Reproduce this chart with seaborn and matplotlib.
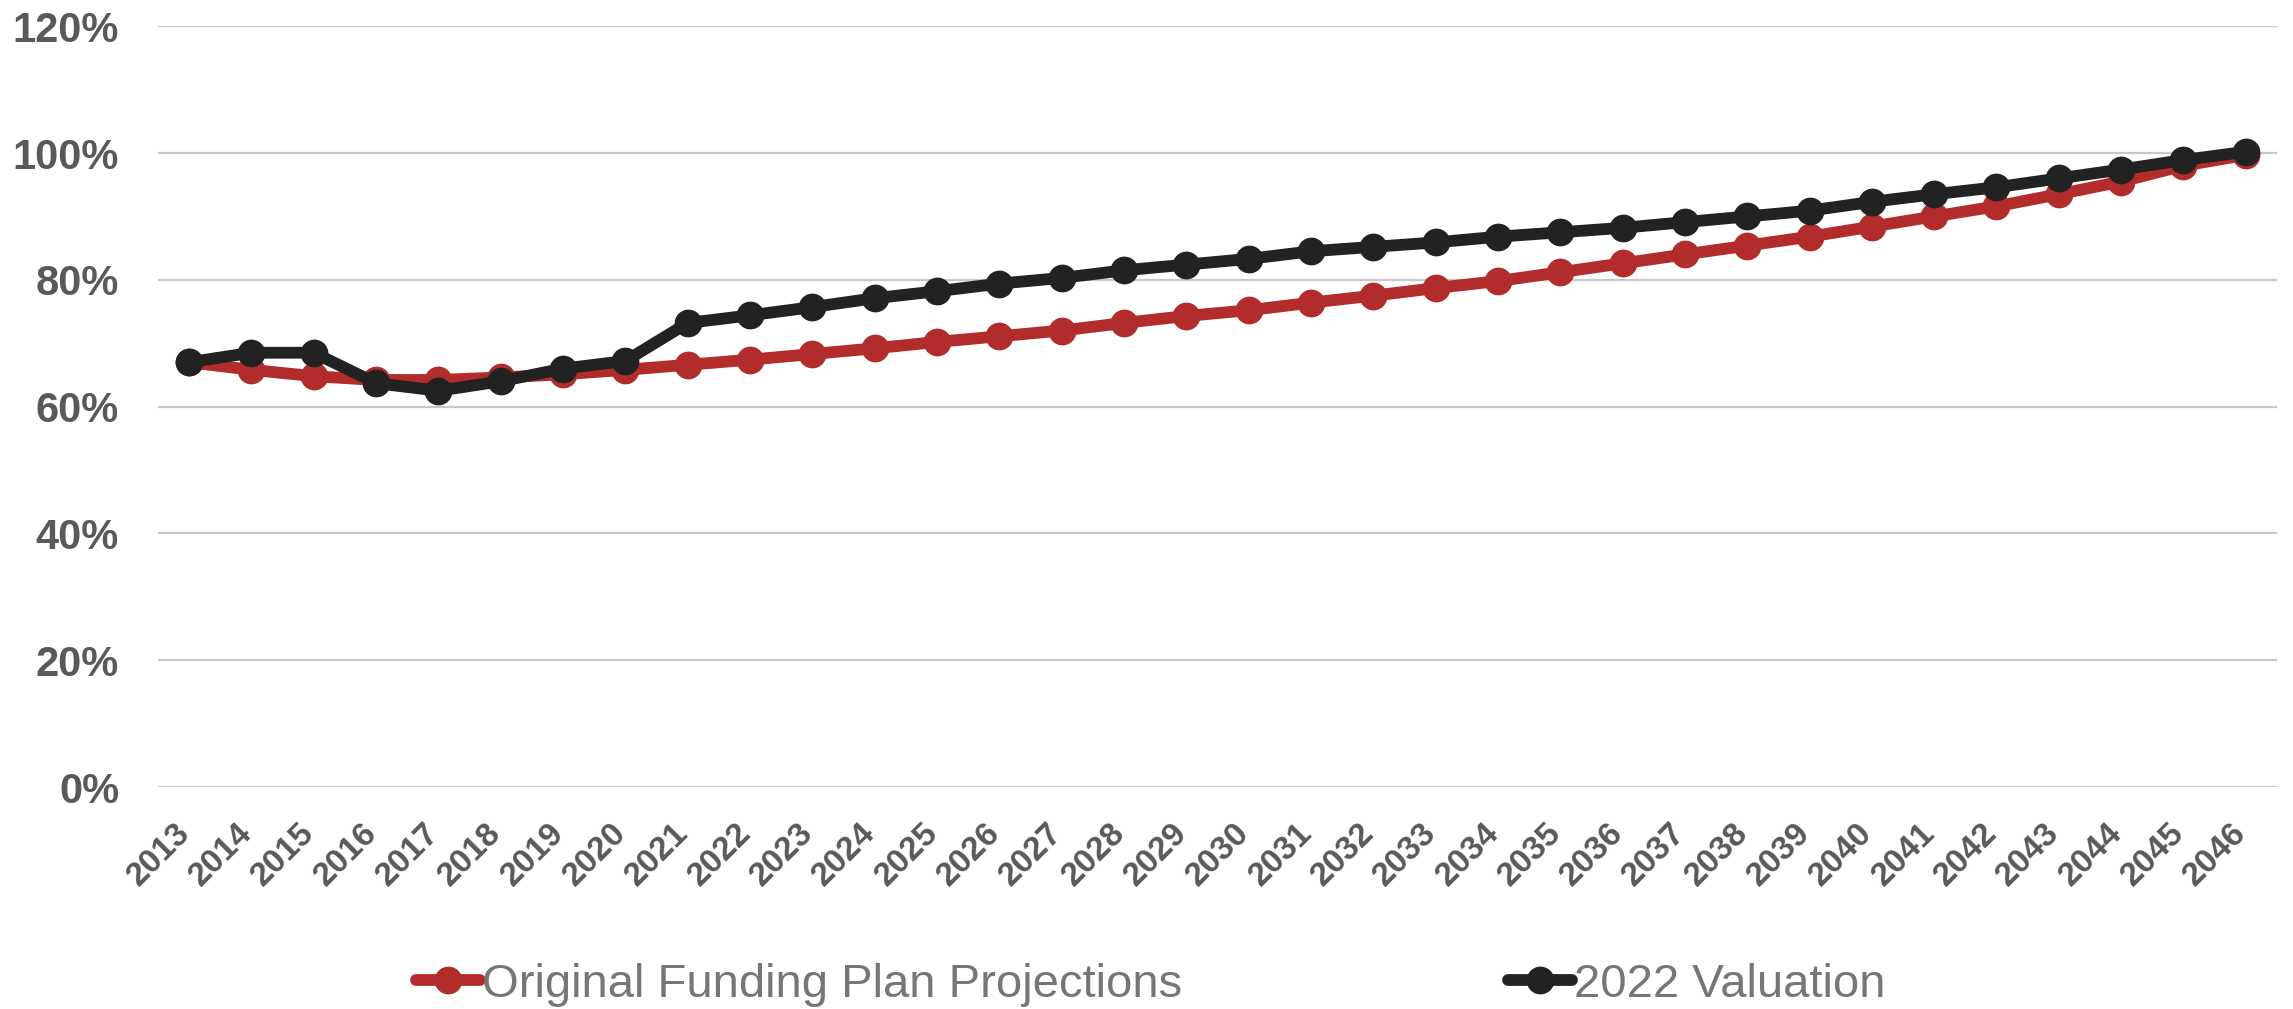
import numpy as np
import pandas as pd
import seaborn as sns
import matplotlib.pyplot as plt
import matplotlib.transforms as mtransforms
from matplotlib.ticker import PercentFormatter

years = list(range(2013, 2047))

original_plan = [67.0, 65.8, 64.8, 64.2, 64.2, 64.6, 65.1, 65.8, 66.6, 67.4,
                 68.3, 69.2, 70.2, 71.1, 72.0, 73.2, 74.3, 75.2, 76.4, 77.5,
                 78.7, 79.8, 81.2, 82.6, 84.0, 85.4, 86.8, 88.4, 90.0, 91.6,
                 93.5, 95.5, 98.0, 99.7]

valuation_2022 = [67.0, 68.5, 68.5, 63.7, 62.5, 64.0, 66.0, 67.2, 73.2, 74.4,
                  75.7, 77.1, 78.2, 79.4, 80.3, 81.5, 82.4, 83.3, 84.5, 85.2,
                  85.9, 86.8, 87.5, 88.2, 89.1, 90.0, 90.9, 92.3, 93.5, 94.6,
                  96.0, 97.4, 98.9, 100.2]

series_names = ["Original Funding Plan Projections", "2022 Valuation"]
colors = ["#B22C2C", "#222222"]

df = pd.DataFrame({
    "year": years * 2,
    "ratio": original_plan + valuation_2022,
    "series": [series_names[0]] * len(years) + [series_names[1]] * len(years),
})

sns.set_style("white")
plt.rcParams["font.family"] = ["Liberation Sans", "DejaVu Sans"]

fig = plt.figure(figsize=(22.93, 10.09), dpi=100)
ax = fig.add_axes([0.0689, 0.22, 0.9241, 0.754])

sns.lineplot(data=df, x="year", y="ratio", hue="series", hue_order=series_names,
             palette=colors, marker="o", markersize=20, markeredgewidth=0,
             linewidth=8.5, ax=ax, legend=False)

ax.set_ylim(0, 120)
ax.set_xlim(2012.5, 2046.5)
ax.set_yticks(range(0, 121, 20))
ax.yaxis.set_major_formatter(PercentFormatter(decimals=0))
ax.set_xticks(years)
ax.set_xticklabels([str(y) for y in years], rotation=45, ha="right", va="top")
ax.set_xlabel("")
ax.set_ylabel("")

ax.grid(axis="y", color="#C8C8C8", linewidth=1.6)
ax.set_axisbelow(True)
for s in ax.spines.values():
    s.set_visible(False)

ax.tick_params(axis="y", length=0, pad=28, labelsize=30, labelcolor="#595959")
ax.tick_params(axis="x", length=0, pad=22, labelsize=24, labelcolor="#595959")
for lbl in ax.get_yticklabels() + ax.get_xticklabels():
    lbl.set_fontweight("bold")

# nudge the rotated year labels so their ends sit just past the tick
shift = mtransforms.ScaledTranslation(0.07, 0, fig.dpi_scale_trans)
for lbl in ax.get_xticklabels():
    lbl.set_transform(lbl.get_transform() + shift)

handles = [plt.Line2D([], [], color=c, linewidth=8.5, marker="o", markersize=20,
                      markeredgewidth=0) for c in colors]
fig.legend(handles, series_names, loc="center", bbox_to_anchor=(0.502, 0.024),
           ncol=2, frameon=False, fontsize=34, labelcolor="#767676",
           handlelength=1.35, handletextpad=0.05, columnspacing=6.9)

fig.savefig("out.png", dpi=100)
